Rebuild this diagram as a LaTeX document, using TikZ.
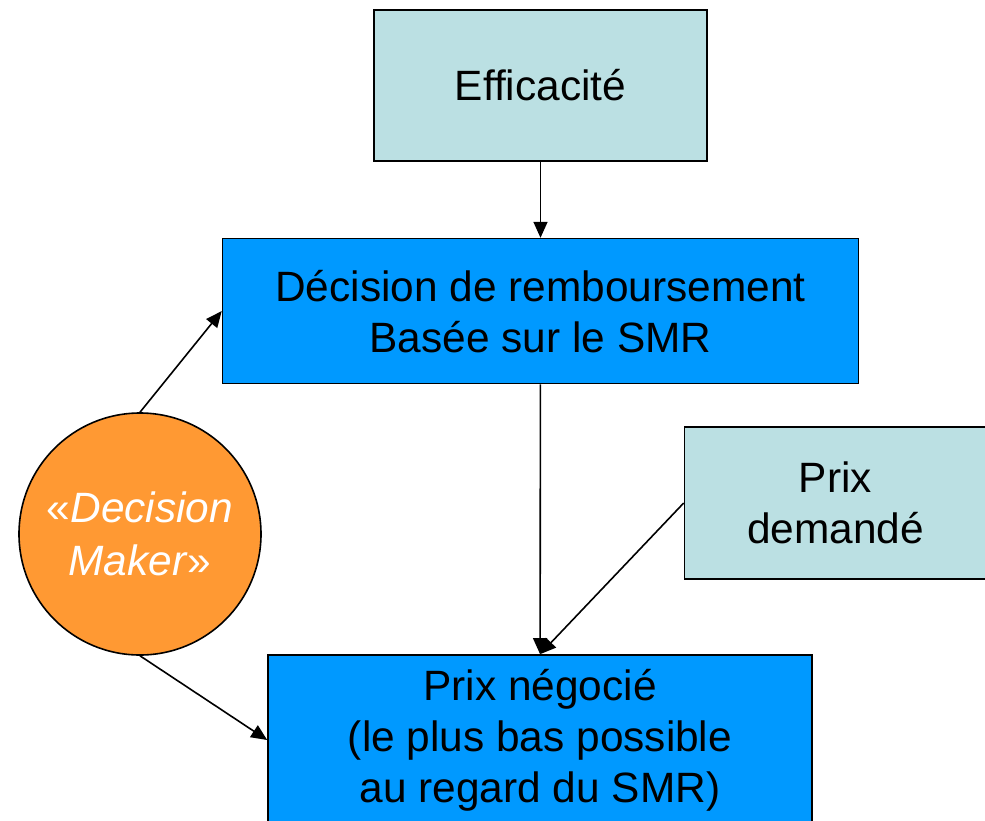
\documentclass[tikz,border=0pt]{standalone}
\usepackage{fontspec}
\setmainfont{Liberation Sans}
\usetikzlibrary{shapes.geometric, arrows.meta, positioning}
\definecolor{paleteal}{RGB}{187,224,227}
\definecolor{brightblue}{RGB}{0,153,255}
\definecolor{makerorange}{RGB}{255,153,51}
\tikzstyle{inputbox} = [rectangle, minimum width=166.5pt, minimum height=75.5pt, text centered, align=center, draw=black, line width=0.8pt, fill=paleteal, font=\fontsize{21.2}{25.5}\selectfont]
\tikzstyle{decisionbox} = [rectangle, minimum width=318pt, minimum height=72.5pt, text centered, align=center, draw=black, line width=0.8pt, fill=brightblue, font=\fontsize{21.2}{25.5}\selectfont]
\tikzstyle{actor} = [circle, minimum size=121pt, inner sep=0pt, align=center, draw=black, line width=0.8pt, fill=makerorange, text=white, font=\fontsize{21.2}{26.5}\selectfont]
\tikzstyle{arrow} = [line width=0.8pt,-{Triangle[length=8pt,width=7pt]}]

\begin{document}
\begin{tikzpicture}
\useasboundingbox (0,0) rectangle (492.5pt,-410pt);
% boxes
\node (eff) [inputbox] at (270.25pt,-42.75pt) {Efficacité};

\node (dec) [decisionbox, below=38pt of eff] {Décision de remboursement\\Basée sur le SMR};

\node (dem) [inputbox, minimum width=151pt, minimum height=76pt] at (417.75pt,-251.5pt) {Prix\\demandé};

\node (neg) [decisionbox, minimum width=272pt, minimum height=85pt] at (270pt,-370pt) {Prix négocié\\(le plus bas possible\\au regard du SMR)};

\node (maker) [actor] at (70pt,-267pt) {«\textit{Decision}\\\textit{Maker}»};

\draw [arrow] (eff) -- (dec);
\draw [arrow] (maker.north) -- (dec.west);
\draw [arrow] (maker.south) -- (neg.west);
\draw [arrow] (dec) -- (neg);
\draw [arrow] (dem.west) -- (neg.north);
\end{tikzpicture}
\end{document}
